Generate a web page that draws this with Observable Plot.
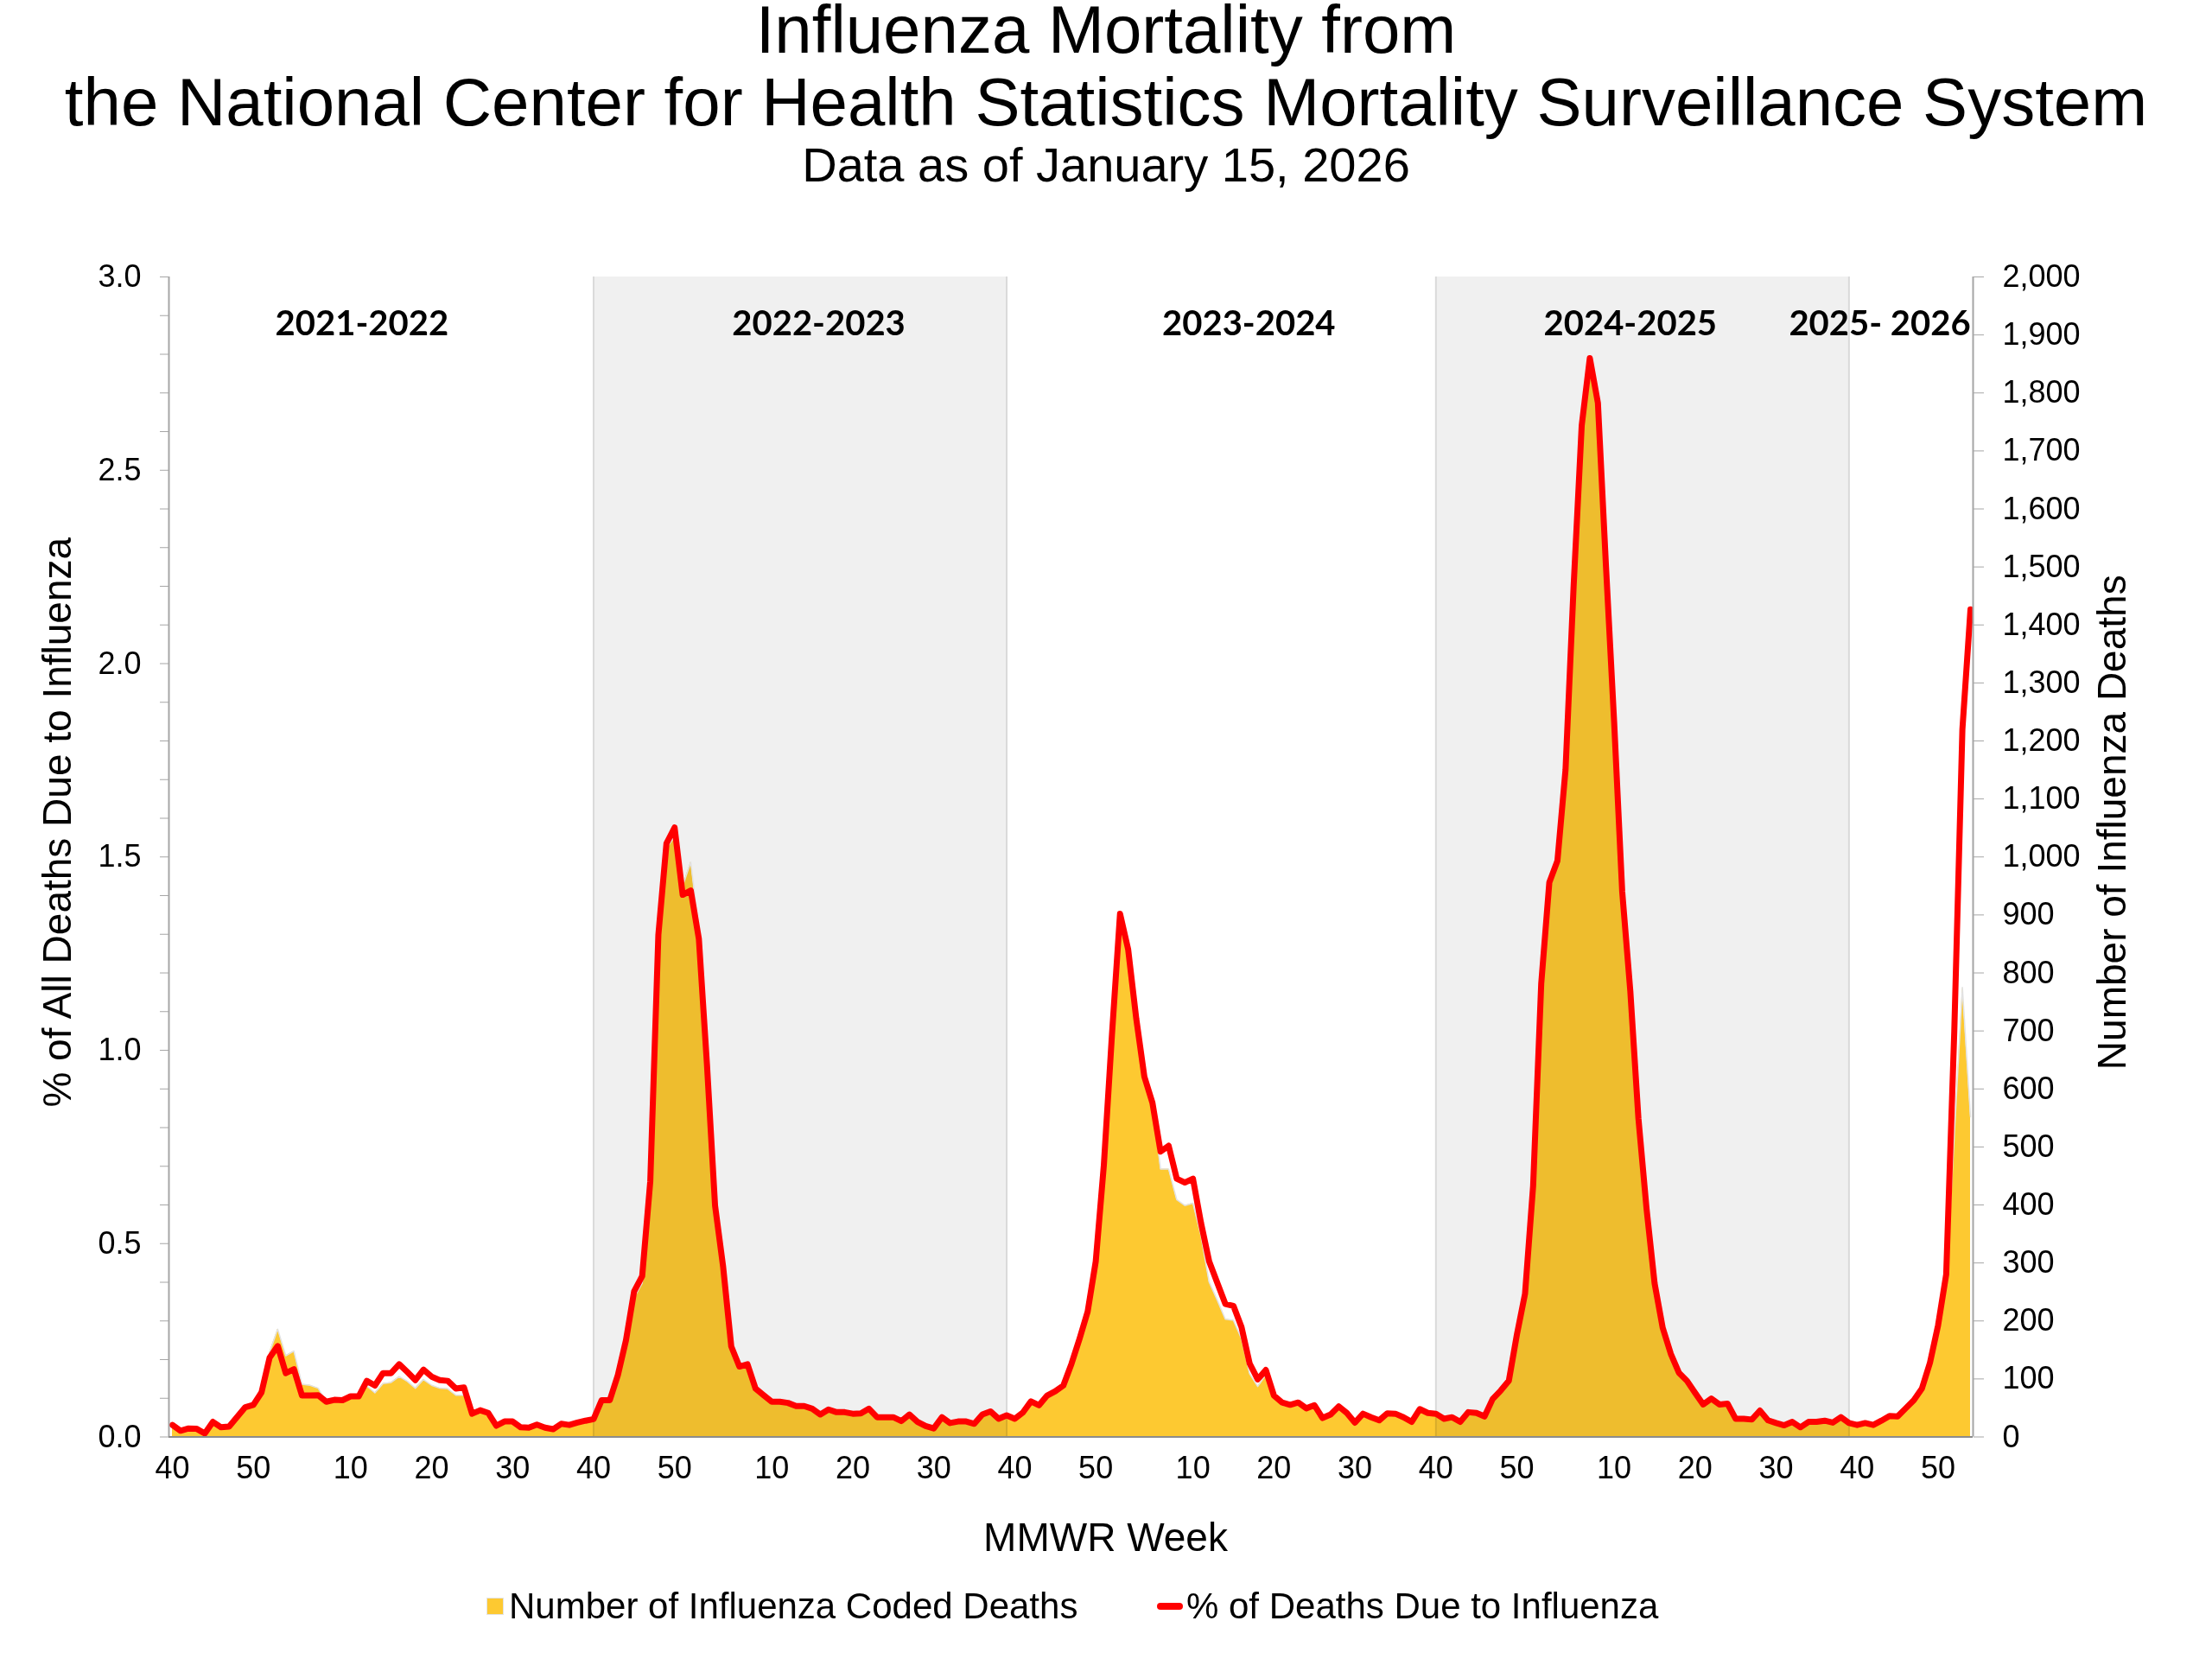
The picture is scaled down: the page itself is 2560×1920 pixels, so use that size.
<!DOCTYPE html>
<html>
<head>
<meta charset="utf-8">
<script src="https://cdn.jsdelivr.net/npm/d3@7"></script>
<script src="https://cdn.jsdelivr.net/npm/@observablehq/plot@0.6"></script>
<style>
  html, body { margin: 0; padding: 0; background: #fff; }
  #page { position: relative; width: 2560px; height: 1920px; overflow: hidden;
          font-family: "Liberation Sans", Arial, sans-serif; color: #000; }
  .t { position: absolute; left: 0; width: 2560px; text-align: center; white-space: nowrap; }
  #chart { position: absolute; left: 0; top: 250px; }
  .leg { position: absolute; font-size: 42px; line-height: 42px; white-space: nowrap; }
</style>
</head>
<body>
<div id="page">
  <div class="t" style="top:0px;font-size:78px;line-height:68px">Influenza Mortality from</div>
  <div class="t" style="top:84px;font-size:78px;line-height:68px">the National Center for Health Statistics Mortality Surveillance System</div>
  <div class="t" style="top:163px;font-size:56px;line-height:56px">Data as of January 15, 2026</div>
  <div id="chart"></div>
  <div class="leg" style="left:563px;top:1849px;width:20px;height:20px;background:#fdc931;border:1px solid #e3e3e3;box-sizing:border-box"></div>
  <div class="leg" style="left:589px;top:1838px">Number of Influenza Coded Deaths</div>
  <div class="leg" style="left:1339px;top:1855px;width:30px;height:8px;background:#ff0000;border-radius:4px"></div>
  <div class="leg" style="left:1373px;top:1838px">% of Deaths Due to Influenza</div>
</div>
<script>
// ---- categories: MMWR weeks from 2021 week 40 onward ----
const firstWeek = 40;
const mmwrYearWeeks = [52, 52, 52, 52, 52];   // MMWR years 2021..2025

// ---- series: % of all deaths due to influenza (left axis), one value per week ----
const pct2021_22 = [0.031,0.016,0.022,0.021,0.009,0.039,0.025,0.027,0.052,0.077,0.083,0.115,0.205,0.235,0.165,0.175,0.107,0.107,0.108,0.091,0.096,0.095,0.105,0.105,0.145,0.133,0.165,0.165,0.188,0.168,0.147,0.174,0.156,0.147,0.145,0.125,0.128,0.060,0.069,0.062,0.029,0.040,0.040,0.025,0.024,0.032,0.024,0.020,0.034,0.031,0.037,0.042];
const pct2022_23 = [0.046,0.095,0.095,0.160,0.250,0.376,0.416,0.661,1.299,1.535,1.576,1.402,1.413,1.288,0.963,0.598,0.439,0.234,0.182,0.188,0.125,0.108,0.091,0.091,0.088,0.080,0.080,0.073,0.058,0.071,0.064,0.064,0.060,0.061,0.073,0.051,0.051,0.051,0.041,0.058,0.039,0.028,0.022,0.051,0.036,0.040,0.040,0.034,0.058,0.066,0.047,0.056];
const pct2023_24 = [0.047,0.063,0.092,0.082,0.107,0.118,0.133,0.189,0.254,0.324,0.454,0.703,1.040,1.353,1.261,1.082,0.932,0.864,0.738,0.753,0.668,0.658,0.668,0.553,0.454,0.399,0.344,0.339,0.284,0.190,0.149,0.173,0.107,0.089,0.083,0.089,0.074,0.082,0.049,0.058,0.079,0.062,0.037,0.060,0.051,0.043,0.061,0.060,0.051,0.039,0.072,0.062];
const pct2024_25 = [0.060,0.047,0.051,0.039,0.064,0.062,0.053,0.098,0.120,0.145,0.265,0.370,0.649,1.172,1.434,1.490,1.725,2.200,2.616,2.790,2.674,2.250,1.850,1.410,1.153,0.824,0.591,0.397,0.282,0.215,0.166,0.145,0.114,0.084,0.099,0.084,0.086,0.047,0.047,0.045,0.068,0.043,0.036,0.030,0.039,0.025,0.039,0.039,0.042,0.037,0.051,0.036];
const pct2025_26 = [0.031,0.036,0.031,0.042,0.054,0.053,0.074,0.095,0.125,0.192,0.289,0.420,1.050,1.830,2.140];

// ---- series: number of influenza coded deaths (right axis) ----
const deaths2021_22 = [20,11,15,14,6,26,17,18,35,51,55,77,146,186,140,148,91,89,84,61,63,63,70,70,88,76,92,94,104,96,84,99,89,84,83,72,72,39,45,41,19,26,26,16,16,21,16,13,22,20,24,27];
const deaths2022_23 = [30,62,62,105,165,240,265,435,860,1015,1035,950,991,875,645,400,293,157,122,125,83,72,61,61,59,53,53,49,39,47,43,43,40,41,49,34,34,34,27,39,26,19,15,34,24,27,27,23,39,44,31,37];
const deaths2023_24 = [31,42,61,55,69,76,86,126,169,216,303,469,693,890,841,721,621,576,462,462,409,399,403,347,267,236,203,201,169,109,87,107,67,55,52,55,47,52,31,37,51,40,24,39,33,28,39,39,33,25,47,40];
const deaths2024_25 = [39,31,33,25,42,41,35,64,78,95,175,245,430,780,955,993,1150,1465,1745,1860,1783,1500,1233,940,769,549,394,265,186,141,108,95,75,55,65,55,56,31,31,30,45,28,24,20,26,17,26,26,28,25,34,24];
const deaths2025_26 = [21,24,21,28,36,35,49,63,83,126,190,265,520,775,552];

// ---- labels / ticks ----
const seasonNames = ["2021-2022", "2022-2023", "2023-2024", "2024-2025", "2025- 2026"];
const shadedSeasons = [1, 3];                       // 2022-2023 and 2024-2025 are shaded
const pctTicks = [0, 0.5, 1.0, 1.5, 2.0, 2.5, 3.0];
const pctMinorTicks = d3.range(0, 31).map(k => k / 10);
const deathTicks = d3.range(0, 2001, 100);
const weekLabelEvery = 10;

// ---- build table ----
const pctSeasons = [pct2021_22, pct2022_23, pct2023_24, pct2024_25, pct2025_26];
const deathSeasons = [deaths2021_22, deaths2022_23, deaths2023_24, deaths2024_25, deaths2025_26];
const pctDeaths = pctSeasons.flat();
const fluDeaths = deathSeasons.flat();
const weeks = [];
{ let w = firstWeek, y = 0;
  for (let i = 0; i < pctDeaths.length; i++) { weeks.push(w); w++; if (w > mmwrYearWeeks[y]) { w = 1; y++; } } }
const data = pctDeaths.map((p, i) => ({i, week: weeks[i], pct: p, deaths: fluDeaths[i]}));

// season start/end indexes
const seasonStart = []; { let s = 0; pctSeasons.forEach(a => { seasonStart.push(s); s += a.length; }); }
const seasons = seasonNames.map((name, k) => ({name, start: seasonStart[k], end: seasonStart[k] + pctSeasons[k].length - 1}));
const shaded = shadedSeasons.map(k => seasons[k]);

// layout constants
const k = 3 / 2000;                                 // right axis 0–2000 deaths ↔ left axis 0–3 %
const xDomain = [-0.43, pctDeaths.length - 1 + 0.32];
const seasonLabelX = [23.4, 79.8, 132.9, 180, 210.8];
const xTickIdx = data.filter(d => d.week % weekLabelEvery === 0).map(d => d.i);
const font = '"Liberation Sans", Arial, sans-serif';

const chart = Plot.plot({
  width: 2560, height: 1560,
  marginTop: 70, marginRight: 277, marginBottom: 147.5, marginLeft: 195,
  x: {domain: xDomain, axis: null},
  y: {domain: [0, 3], axis: null},
  style: {fontFamily: font, fontSize: "36px", color: "#000", background: "transparent", overflow: "visible"},
  marks: [
    Plot.rect(shaded, {x1: "start", x2: "end", y1: () => 0, y2: () => 3, fill: "#f0f0f0"}),
    Plot.ruleX(shaded.flatMap(s => [s.start, s.end]), {stroke: "#dadada", strokeWidth: 2}),
    Plot.areaY(data, {x: "i", y: d => d.deaths * k, fill: "#fdc931", mixBlendMode: "multiply"}),
    Plot.lineY(data, {x: "i", y: d => d.deaths * k, stroke: "#e2e2e2", strokeWidth: 1.5}),
    Plot.lineY(data, {x: "i", y: "pct", stroke: "#ff0000", strokeWidth: 7, strokeLinejoin: "round", strokeLinecap: "round"}),
    Plot.ruleX(xDomain, {stroke: "#a6a6a6", strokeWidth: 2}),
    Plot.ruleY([0], {stroke: "#8c8c8c", strokeWidth: 2}),
    Plot.axisY({anchor: "left", label: null, ticks: pctMinorTicks, tickSize: 10, tickFormat: () => "", stroke: "#a6a6a6"}),
    Plot.axisY({anchor: "left", label: null, ticks: pctTicks, tickSize: 0, tickPadding: 32, tickFormat: d3.format(".1f"), fontSize: 36}),
    Plot.axisY({anchor: "right", label: null, ticks: deathTicks.map(d => d * k), tickSize: 12, tickPadding: 22,
                tickFormat: v => d3.format(",")(Math.round(v / k)), stroke: "#a6a6a6", fontSize: 36}),
    Plot.axisX({anchor: "bottom", label: null, ticks: xTickIdx, tickSize: 0, tickPadding: 22, tickFormat: i => weeks[i], fontSize: 36}),
    Plot.text(["% of All Deaths Due to Influenza"], {text: d => d, frameAnchor: "left", textAnchor: "middle", rotate: -90, dx: -128, dy: -40, fontSize: 46}),
    Plot.text(["Number of Influenza Deaths"], {text: d => d, frameAnchor: "right", textAnchor: "middle", rotate: -90, dx: 162, dy: -40, fontSize: 46}),
    Plot.text(["MMWR Week"], {text: d => d, frameAnchor: "bottom", dx: 40, dy: 132, fontSize: 46}),
    Plot.text(seasons.map((s, j) => ({name: s.name, x: seasonLabelX[j]})),
              {x: "x", text: "name", frameAnchor: "top", dy: 39, fontFamily: "Lato", fontWeight: 700, fontSize: 40})
  ]
});
document.getElementById("chart").appendChild(chart);
</script>
</body>
</html>
